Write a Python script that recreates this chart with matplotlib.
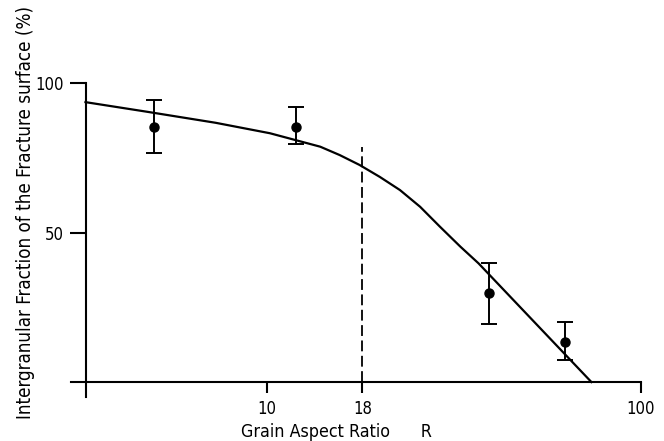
import matplotlib.pyplot as plt

# measured points (grain aspect ratio R, intergranular fraction %)
ratio = [5.0, 12.0, 39.3, 62.7]
fraction = [85.3, 85.3, 29.8, 13.4]
err_low = [8.7, 5.7, 10.4, 6.0]
err_high = [9.0, 6.7, 10.0, 6.6]

# fitted curve
curve_r = [3.28, 4.78, 7.3, 10.2, 13.9, 15.67, 17.7, 20.05, 22.7, 25.7, 29.0, 32.9, 36.8, 73.7]
curve_f = [93.6, 90.4, 86.7, 83.2, 78.7, 75.9, 72.6, 68.6, 64.2, 58.6, 52.0, 45.3, 39.7, 0.0]

critical_r = 18
critical_top = 78.7

plt.rcParams['font.family'] = 'DejaVu Sans'
plt.rcParams['font.stretch'] = 'condensed'

fig = plt.figure(figsize=(6.64, 4.41), dpi=100)
ax = fig.add_axes([71 / 664, 44 / 441, 570 / 664, 314 / 441])

ax.plot(curve_r, curve_f, color='black', linewidth=1.6)
ax.errorbar(ratio, fraction, yerr=[err_low, err_high], fmt='o', color='black',
            markersize=6.5, capsize=6, elinewidth=1.4, capthick=1.4)
ax.plot([critical_r, critical_r], [0, critical_top], color='black',
        linestyle=(0, (6, 2.5)), linewidth=1.3)

ax.set_xscale('log')
ax.set_xlim(3, 100)
ax.set_ylim(-5, 100)

ax.spines['top'].set_visible(False)
ax.spines['right'].set_visible(False)
ax.spines['left'].set_position(('data', 3.28))
ax.spines['bottom'].set_position(('data', 0))
ax.spines['left'].set_linewidth(1.5)
ax.spines['bottom'].set_linewidth(1.5)

ax.set_xticks([10, 18, 100])
ax.set_xticklabels(['10', '18', '100'])
ax.xaxis.set_minor_locator(plt.NullLocator())
ax.set_yticks([50, 100])
ax.set_yticklabels(['50', '100'])
ax.tick_params(axis='x', direction='out', length=8, width=1.5, labelsize=12, pad=5)
ax.tick_params(axis='y', direction='out', length=11.5, width=1.5, labelsize=12, pad=4)

ax.set_xlabel('Grain Aspect Ratio      R', fontsize=12.8)
ax.xaxis.set_label_coords(0.465, -0.083)
ax.set_ylabel('Intergranular Fraction of the Fracture surface (%)', fontsize=13.5)
ax.yaxis.set_label_coords(-0.064, 0.588)

plt.savefig('out.png', dpi=100)
